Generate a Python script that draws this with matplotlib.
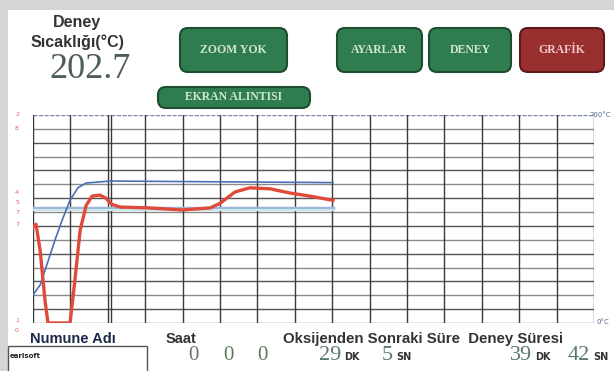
import matplotlib.pyplot as plt
import numpy as np
from matplotlib.patches import FancyBboxPatch, Rectangle

# readings taken off the screen (time index 0..150, temperature 0..200 C)
red_t = [0, 0.8, 1.9, 3.2, 4, 9.9, 11.2, 12.6, 14.2, 15.8, 17.9, 19.5, 21.1, 23.3,
         31.3, 39.8, 47.3, 50, 54, 58, 63.4, 68.7, 74, 80.2]
red_T = [92, 95, 70, 22, 0, 0, 41, 89, 113, 122, 123, 120, 114, 111.5,
         110.6, 108.7, 110.6, 115, 126, 130, 129, 125, 122, 118]
blue_t = [0, 1.9, 3.7, 5.9, 7.8, 9.9, 12, 14.2, 20.6, 80.2]
blue_T = [27, 36.5, 56, 80, 99, 118, 130, 134.6, 136.5, 135]
set_T = 111
current_temp = "202.7"
buttons = [("ZOOM YOK", 180, 28, 107, 44, "g"),
           ("EKRAN ALINTISI", 158, 87, 152, 21, "g"),
           ("AYARLAR", 337, 28, 85, 44, "g"),
           ("DENEY", 429, 28, 82, 44, "g"),
           ("GRAFİK", 520, 28, 84, 44, "r")]
saat = ["0", "0", "0"]
oks_dk, oks_sn = "29", "5"
deney_dk, deney_sn = "39", "42"
numune = "earlsoft"

W, H = 614, 371
fig = plt.figure(figsize=(W / 100, H / 100), dpi=100)
fig.patch.set_facecolor('#d6d6d6')

# overlay axes in pixel coordinates
bg = fig.add_axes([0, 0, 1, 1])
bg.set_xlim(0, W)
bg.set_ylim(H, 0)
bg.axis('off')
bg.add_patch(Rectangle((8, 10), W, H, facecolor='white', edgecolor='none'))

# header
bg.text(77, 22, "Deney", ha='center', va='center', fontsize=11.5,
        fontweight='bold', family='Liberation Sans', color='#333333')
bg.text(77, 42, "Sıcaklığı(°C)", ha='center', va='center', fontsize=11.5,
        fontweight='bold', family='Liberation Sans', color='#333333')
bg.text(90, 70, current_temp, ha='center', va='center', fontsize=26,
        family='Liberation Serif', color='#4e5e52')

for label, x, y, w, h, c in buttons:
    fc, ec, tc = ('#2f7d4e', '#1d4d31', '#cfe6d2') if c == "g" else ('#9a2f2f', '#5e1a1a', '#f0c8c8')
    bg.add_patch(FancyBboxPatch((x, y), w, h, boxstyle="round,pad=0,rounding_size=8",
                                facecolor=fc, edgecolor=ec, linewidth=1.5))
    bg.text(x + w / 2, y + h / 2, label, ha='center', va='center', fontsize=8.5,
            fontweight='bold', family='Liberation Serif', color=tc)

# small red markers on the left
for ch, yy in [("2", 115), ("8", 128), ("4", 193), ("5", 203), ("7", 212), ("7", 225),
               ("1", 320), ("0", 331)]:
    bg.text(17, yy, ch, ha='center', va='center', fontsize=4.5, color='#e06060')
bg.text(600, 115, "200°C", ha='center', va='center', fontsize=5, color='#556688')
bg.text(603, 322, "0°C", ha='center', va='center', fontsize=5, color='#556688')

# bottom labels
bg.text(30, 339, "Numune Adı", ha='left', va='center', fontsize=10.5, fontweight='bold',
        family='Liberation Sans', color='#1e2a4a')
bg.text(166, 339, "Saat", ha='left', va='center', fontsize=10.5, fontweight='bold',
        family='Liberation Sans', color='#333333')
bg.text(283, 339, "Oksijenden Sonraki Süre  Deney Süresi", ha='left', va='center',
        fontsize=10.8, fontweight='bold', family='Liberation Sans', color='#333333')
bg.add_patch(Rectangle((8, 346), 139, 30, facecolor='white', edgecolor='#555555', linewidth=1))
bg.text(10, 356, numune, ha='left', va='center', fontsize=5, fontweight='bold', color='#222222')

for s, xx, col in zip(saat, [193, 228, 262], ['#707070', '#5a7a5a', '#5a7a5a']):
    bg.text(xx, 355, s, ha='center', va='center', fontsize=15, family='Liberation Serif', color=col)

def timefield(x, num1, num2, x2):
    bg.text(x, 355, num1, ha='right', va='center', fontsize=16, family='Liberation Serif',
            color='#5a7a6a')
    bg.text(x + 3, 357, "DK", ha='left', va='center', fontsize=7, fontweight='bold', color='#333333')
    bg.text(x2, 355, num2, ha='right', va='center', fontsize=16, family='Liberation Serif',
            color='#5a7a6a')
    bg.text(x2 + 3, 357, "SN", ha='left', va='center', fontsize=7, fontweight='bold', color='#333333')

timefield(341, oks_dk, oks_sn, 393)
timefield(532, deney_dk, deney_sn, 590)

# chart
ax = fig.add_axes([33 / W, 1 - 323 / H, 561 / W, 208 / H])
ax.set_xlim(0, 150)
ax.set_ylim(0, 200)
ax.set_facecolor('white')
for i, yv in enumerate(np.linspace(0, 200, 16)):
    if i == 15:
        ax.axhline(yv, color='#7a8aa0', lw=1, ls=(0, (3, 1)))
    else:
        ax.axhline(yv, color='#555555' if i % 2 else '#8a8a8a', lw=1)
for xv in np.arange(0, 151, 10):
    ax.axvline(xv, color='#3a3a3a', lw=1)
ax.axvline(20.9, color='#3a3a3a', lw=1)

ax.plot([0, 80.2], [set_T, set_T], color='#9fb8d8', lw=2.5)
ax.plot([0, 80.2], [set_T - 2, set_T - 2], color='#c8e8ec', lw=1.5)
ax.plot(blue_t, blue_T, color='#4a6fb5', lw=1.2)
ax.plot(red_t, red_T, color='#e04a3a', lw=2.4)

ax.set_xticks([])
ax.set_yticks([])
for sp in ax.spines.values():
    sp.set_visible(False)

fig.savefig("out.png", dpi=100, facecolor=fig.get_facecolor())
